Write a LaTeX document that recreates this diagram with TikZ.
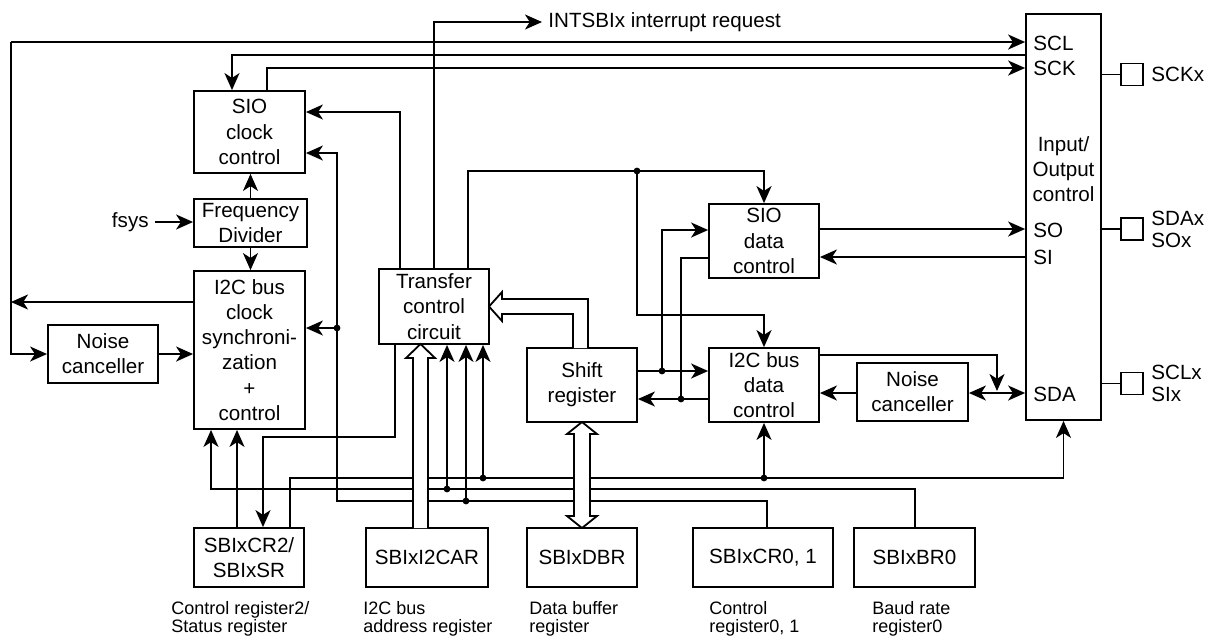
\documentclass[tikz,border=0pt]{standalone}
\usepackage{fontspec}
\setmainfont{Liberation Sans}
\usetikzlibrary{arrows.meta}

\begin{document}
\begin{tikzpicture}[
    x=0.5pt, y=-0.5pt,
    blk/.style={draw, line width=0.9pt, inner sep=0pt, align=center,
                minimum width=55pt, minimum height=37pt,
                font=\fontsize{10.3}{12.6}\selectfont},
    reg/.style={blk, minimum height=29.5pt},
    lbl/.style={inner sep=0pt, font=\fontsize{10.3}{12.6}\selectfont},
    regcap/.style={anchor=north west, inner sep=0pt, align=left,
                font=\fontsize{9}{9}\selectfont},
    pin/.style={draw, line width=0.9pt, minimum size=11pt, inner sep=0pt},
    wire/.style={line width=0.9pt},
    arr/.style={wire, -{Stealth[length=8.5pt, width=7.5pt, inset=2.4pt]}},
    arrb/.style={wire, {Stealth[length=8.5pt, width=7.5pt, inset=2.4pt]}-{Stealth[length=8.5pt, width=7.5pt, inset=2.4pt]}},
    dot/.style={circle, fill, inner sep=0pt, minimum size=3.4pt},
    bus/.style={draw, line width=0.9pt, fill=white, line join=miter}
]
\useasboundingbox (0,0) rectangle (1213,639);

\node[blk, minimum width=55.5pt, minimum height=41pt] (sioclk) at (249.5,132) {SIO\\clock\\control};
\node[blk, minimum width=56.5pt, minimum height=24pt] (fdiv)   at (250.5,223) {Frequency\\Divider};
\node[blk, minimum width=55.5pt, minimum height=79pt] (i2cclk) at (249.5,350) {I2C bus\\clock\\synchroni-\\zation\\+\\control};
\node[blk, minimum height=29pt] (ncl)  at (103,354)   {Noise\\canceller};
\node[blk, minimum height=37.5pt] (tcc) at (434,306.5) {Transfer\\control\\circuit};
\node[blk] (shr)  at (582,385) {Shift\\register};
\node[blk] (siod) at (764,241) {SIO\\data\\control};
\node[blk] (i2cd) at (764,385) {I2C bus\\data\\control};
\node[blk, minimum width=55.5pt, minimum height=29pt] (ncr) at (912.5,392) {Noise\\canceller};
\node[blk, minimum width=37.5pt, minimum height=203pt] (io) at (1063.5,217) {};

\node[lbl, align=center] (iotxt) at (1063.5,169) {Input/\\Output\\control};
\node[lbl, anchor=west] (scl) at (1033,43)  {SCL};
\node[lbl, anchor=west] (sck) at (1033,68)  {SCK};
\node[lbl, anchor=west] (so)  at (1033,230) {SO};
\node[lbl, anchor=west] (si)  at (1033,257) {SI};
\node[lbl, anchor=west] (sda) at (1033,394) {SDA};

\node[pin] (pk) at (1132,74.5)  {};
\node[pin] (pd) at (1132,229)   {};
\node[pin] (pl) at (1132,383.5) {};
\node[lbl, anchor=west] (sckx) at (1151,74.5) {SCKx};
\node[lbl, anchor=west, align=left, font=\fontsize{10.3}{11}\selectfont] (sdax) at (1151,229)   {SDAx\\SOx};
\node[lbl, anchor=west, align=left, font=\fontsize{10.3}{11}\selectfont] (sclx) at (1151,383.5) {SCLx\\SIx};

\node[reg] (cr2)  at (249,557.5) {SBIxCR2/\\SBIxSR};
\node[reg, minimum width=61pt]   (i2car) at (427,557.5) {SBIxI2CAR};
\node[reg] (dbr)  at (582,557.5) {SBIxDBR};
\node[reg, minimum width=70pt]   (cr01) at (763,557.5) {SBIxCR0, 1};
\node[reg, minimum width=60.5pt] (br0)  at (914.5,557.5) {SBIxBR0};

\node[regcap] (c1) at (171,601) {Control register2/\\Status register};
\node[regcap] (c2) at (363,601) {I2C bus\\address register};
\node[regcap] (c3) at (529,601) {Data buffer\\register};
\node[regcap] (c4) at (709,601) {Control\\register0, 1};
\node[regcap] (c5) at (872,601) {Baud rate\\register0};

\node[lbl, anchor=east, inner sep=3pt] (fsys) at (155,222) {fsys};
\node[lbl, anchor=west, inner sep=3pt] (intreq) at (542,22) {INTSBIx interrupt request};

\coordinate (lt) at (11,42);
\coordinate (j1) at (637,171);
\coordinate (j2) at (337,328);
\coordinate (j3) at (466,501);
\coordinate (j4) at (447,489);
\coordinate (j5) at (483,478);
\coordinate (j6) at (764,478);
\coordinate (j7) at (662,371);
\coordinate (j8) at (681,399);

\draw[arr] (lt) -- (lt -| io.west);
\draw[arr] (lt) |- (ncl.west);
\draw[arr] (i2cclk.west |- 0,302) -- (lt |- 0,302);
\draw[arr] (ncl.east) -- (ncl.east -| i2cclk.west);
\draw[arr] (io.west |- 0,55) -| (232,0 |- sioclk.north);
\draw[arr] (267,0 |- sioclk.north) |- (io.west |- 0,68);
\draw[arr] (fsys.east) -- (fsys.east -| fdiv.west);
\draw[arr] (fdiv.north) -- (fdiv.north |- sioclk.south);
\draw[arr] (fdiv.south) -- (fdiv.south |- i2cclk.north);

\draw[arr] (400,0 |- tcc.north) |- (sioclk.east |- 0,112);
\draw[arr] (434,0 |- tcc.north) |- (intreq.west);
\draw[wire] (468,0 |- tcc.north) |- (j1);
\draw[arr] (j1) -| (siod.north);
\draw[arr] (j1) |- (i2cd.north |- 0,315) -- (i2cd.north);

\draw[arr] (767,0 |- cr01.north) |- (337,501) |- (sioclk.east |- 0,153);
\draw[arr] (j2) -- (j2 -| i2cclk.east);
\draw[arr] (j3) -- (j3 |- tcc.south);
\draw[arr] (915,0 |- br0.north) |- (211,489) -- (211,0 |- i2cclk.south);
\draw[arr] (j4) -- (j4 |- tcc.south);
\draw[arr] (290,0 |- cr2.north) |- (io.south |- 0,478) -- (io.south);
\draw[arr] (j5) -- (j5 |- tcc.south);
\draw[arr] (j6) -- (i2cd.south);
\draw[arr] (237,0 |- cr2.north) -- (237,0 |- i2cclk.south);
\draw[arr] (395,0 |- tcc.south) |- (263,437) -- (263,0 |- cr2.north);

\draw[arr] (shr.east |- j7) -- (i2cd.west |- j7);
\draw[arr] (j7) |- (siod.west |- 0,230);
\draw[arr] (siod.west |- 0,258) -| (j8) -- (shr.east |- j8);
\draw[wire] (i2cd.west |- j8) -- (j8);
\draw[arr] (siod.east |- 0,229) -- (io.west |- 0,229);
\draw[arr] (io.west |- 0,257) -- (siod.east |- 0,257);
\draw[arr] (i2cd.east |- 0,355) -| (997,391);
\draw[arrb] (ncr.east |- 0,393) -- (io.west |- 0,393);
\draw[arr] (ncr.west |- 0,393) -- (i2cd.east |- 0,393);

\draw[wire] (io.east |- pk) -- (pk.west);
\draw[wire] (io.east |- pd) -- (pd.west);
\draw[wire] (io.east |- pl) -- (pl.west);

\path[bus] (413,528) -- (413,358) -- (406,358) -- (420.5,344) -- (435,358) -- (428,358) -- (428,528);
\path[bus] (588,348) -- (588,299) -- (502,299) -- (502,292) -- (489,306.5) -- (502,321) -- (502,314) -- (573,314) -- (573,348);
\path[bus] (574,434) -- (574,516) -- (567,516) -- (582,528) -- (597,516) -- (590,516)
    -- (590,434) -- (597,434) -- (582,422) -- (567,434) -- cycle;

\foreach \j in {j1,j2,j3,j4,j5,j6,j7,j8}
    \node[dot] at (\j) {};
\end{tikzpicture}
\end{document}
